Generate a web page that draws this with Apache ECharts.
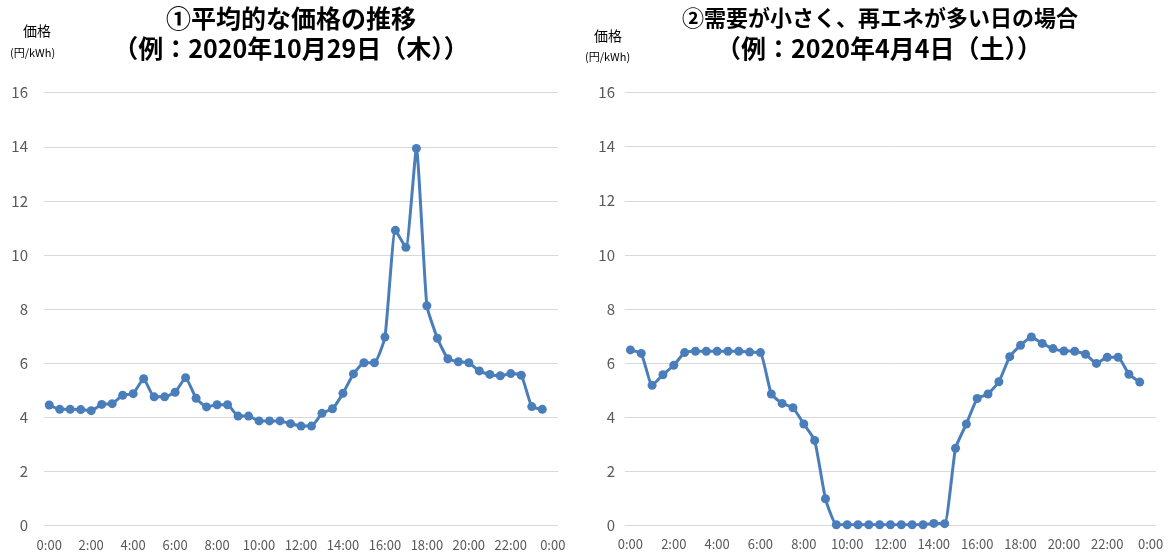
<!DOCTYPE html>
<html><head><meta charset="utf-8">
<script src="https://cdn.jsdelivr.net/npm/echarts@6/dist/echarts.min.js"></script>
<style>html,body{margin:0;padding:0;background:#fff}#c{width:1171px;height:556px}</style>
</head><body><div id="c"></div>
<script>
const times = ["0:00","0:30","1:00","1:30","2:00","2:30","3:00","3:30","4:00","4:30","5:00","5:30",
"6:00","6:30","7:00","7:30","8:00","8:30","9:00","9:30","10:00","10:30","11:00","11:30",
"12:00","12:30","13:00","13:30","14:00","14:30","15:00","15:30","16:00","16:30","17:00","17:30",
"18:00","18:30","19:00","19:30","20:00","20:30","21:00","21:30","22:00","22:30","23:00","23:30","24:00"];
const priceOct29 = [4.45,4.29,4.29,4.28,4.24,4.47,4.50,4.81,4.87,5.42,4.75,4.75,
4.92,5.46,4.70,4.38,4.46,4.46,4.04,4.04,3.86,3.86,3.86,3.76,
3.67,3.67,4.14,4.31,4.88,5.60,6.01,6.01,6.96,10.91,10.28,13.94,
8.12,6.92,6.16,6.05,6.01,5.71,5.58,5.53,5.61,5.55,4.39,4.29];
const priceApr4 = [6.48,6.35,5.17,5.56,5.91,6.38,6.43,6.43,6.43,6.43,6.43,6.40,
6.38,4.85,4.50,4.34,3.74,3.13,0.97,0.01,0.01,0.01,0.01,0.01,
0.01,0.01,0.01,0.01,0.06,0.05,2.84,3.74,4.68,4.85,5.30,6.23,
6.65,6.96,6.72,6.53,6.44,6.43,6.32,5.98,6.21,6.21,5.58,5.29];
const yTicks = {min:0, max:16, interval:2};
const titleMain = ["①平均的な価格の推移","②需要が小さく、再エネが多い日の場合"];
const titleSub = ["（例：2020年10月29日（木））","（例：2020年4月4日（土））"];
const yName = "価格", yUnit = "(円/kWh)";

const FONT = "'Noto Sans CJK JP', 'Noto Sans', sans-serif";
const BLUE = '#4a7ebb';
const chart = echarts.init(document.getElementById('c'), null, {renderer:'canvas'});
function xAxis(gi){return {type:'category', gridIndex:gi, data:times, boundaryGap:true,
  axisLine:{show:false}, axisTick:{show:false},
  axisLabel:{interval:3, color:'#595959', fontSize:13, fontFamily:FONT, margin:13,
    formatter:v=>v==='24:00'?'0:00':v}};}
function yAxis(gi,m){return {type:'value', gridIndex:gi, min:yTicks.min, max:yTicks.max, interval:yTicks.interval,
  axisLine:{show:false}, axisTick:{show:false},
  axisLabel:{color:'#595959', fontSize:15, fontFamily:FONT, margin:m},
  splitLine:{lineStyle:{color:'#d9d9d9', width:1}}};}
function series(gi,d){return {type:'line', xAxisIndex:gi, yAxisIndex:gi, data:d, smooth:0.15,
  symbol:'circle', symbolSize:9, showSymbol:true, showAllSymbol:true, lineStyle:{color:BLUE, width:3},
  itemStyle:{color:BLUE}, animation:false};}
function title(t,x,y,fs){return {text:t, left:x, top:y, textAlign:'center', padding:0,
  textStyle:{fontSize:fs, fontWeight:'bold', color:'#000', fontFamily:FONT, lineHeight:30}};}
chart.setOption({
  animation:false,
  title:[
    title(titleMain[0],291,3,25), title(titleSub[0],291,33,25),
    title(titleMain[1],880,3,22), title(titleSub[1],879,33,25)
  ],
  grid:[{left:44, right:613, top:92.7, bottom:30.7},{left:625, right:15, top:92.7, bottom:31}],
  xAxis:[xAxis(0), xAxis(1)],
  yAxis:[yAxis(0,16), yAxis(1,10)],
  series:[series(0,priceOct29), series(1,priceApr4)],
  graphic:[
    {type:'text', left:23, top:24, style:{text:yName, fontSize:14, fill:'#000', fontFamily:FONT}},
    {type:'text', left:10, top:47, style:{text:yUnit, fontSize:11, fill:'#000', fontFamily:FONT}},
    {type:'text', left:594, top:29, style:{text:yName, fontSize:14, fill:'#000', fontFamily:FONT}},
    {type:'text', left:585, top:51, style:{text:yUnit, fontSize:11, fill:'#000', fontFamily:FONT}}
  ]
});
</script></body></html>
